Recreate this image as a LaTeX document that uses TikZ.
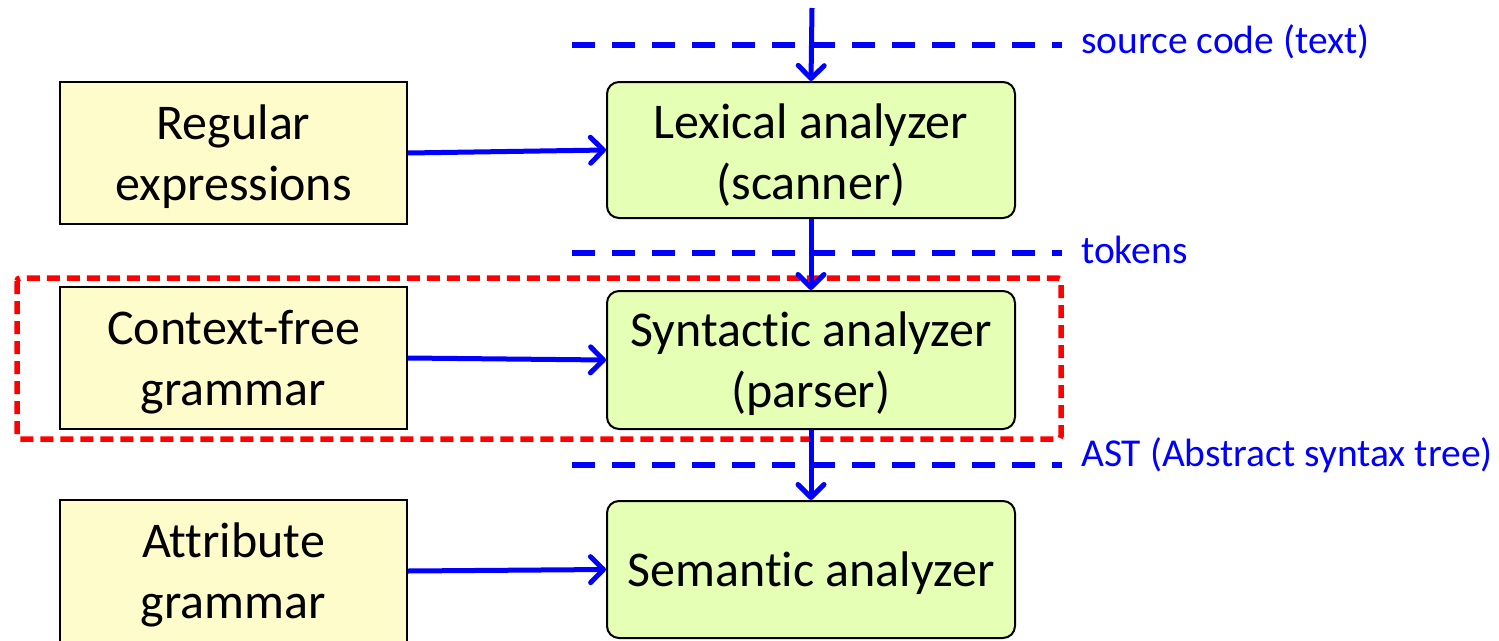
\documentclass[tikz,border=0pt]{standalone}
\usepackage{fontspec}
\setmainfont[Ligatures={NoCommon}]{Carlito}
\usetikzlibrary{arrows.meta}
\definecolor{leftfill}{RGB}{255,252,204}
\definecolor{rightfill}{RGB}{229,255,180}
\definecolor{arrblue}{RGB}{0,0,255}
\definecolor{boxred}{RGB}{255,0,0}
\begin{document}
\begin{tikzpicture}[x=1pt,y=-1pt,
  leftbox/.style={draw=black,line width=2pt,fill=leftfill,minimum width=347pt,minimum height=142pt,inner sep=0pt},
  rightbox/.style={draw=black,line width=2pt,fill=rightfill,rounded corners=12pt,minimum width=408pt,inner sep=0pt},
  boxtext/.style={align=center,inner sep=0pt,font=\fontsize{50}{61}\selectfont},
  flow/.style={draw=arrblue,line width=5pt,-{Straight Barb[length=13pt,width=26pt,line width=5pt,line cap=round,line join=round]}},
  sep/.style={draw=arrblue,line width=6pt,dash pattern=on 23pt off 17pt},
  lbl/.style={anchor=west,text=arrblue,inner sep=0pt,font=\fontsize{39.5}{44}\selectfont}
]
\useasboundingbox (0,0) rectangle (1499,640);
% left boxes
\node[leftbox] (re) at (233.5,153) {};
\node[leftbox] (cfg) at (233.5,358) {};
\node[leftbox] (ag) at (233.5,571) {};
\node[boxtext] (reT) at ([yshift=-4pt]re.center) {Regular\\expressions};
\node[boxtext] (cfgT) at ([yshift=-4pt]cfg.center) {Context-free\\grammar};
\node[boxtext] (agT) at ([yshift=-4pt]ag.center) {Attribute\\grammar};
% right boxes
\node[rightbox,minimum height=136pt] (lex) at (811,150) {};
\node[rightbox,minimum height=138pt] (syn) at (811,360) {};
\node[rightbox,minimum height=137pt] (sem) at (811,569.5) {};
\node[boxtext] (lexT) at ([yshift=-5pt]lex.center) {Lexical analyzer\\(scanner)};
\node[boxtext] (synT) at ([yshift=-4pt]syn.center) {Syntactic analyzer\\(parser)};
\node[boxtext] (semT) at ([yshift=-4pt]sem.center) {Semantic analyzer};
% separators
\coordinate (s1a) at (572,45); \coordinate (s1b) at (1062,45);
\coordinate (s2a) at (572,253); \coordinate (s2b) at (1062,253);
\coordinate (s3a) at (572,465); \coordinate (s3b) at (1062,465);
\draw[sep] (s1a) -- (s1b);
\draw[sep] (s2a) -- (s2b);
\draw[sep] (s3a) -- (s3b);
\node[lbl] (l1) at (1081,42) {source code (text)};
\node[lbl] (l2) at (1081,250) {tokens};
\node[lbl] (l3) at (1081,455) {AST (Abstract syntax tree)};
% red dashed focus box
\draw[draw=boxred,line width=5.5pt,dash pattern=on 13pt off 7pt,rounded corners=3pt] (17,278) rectangle (1061,439);
% arrows
\coordinate (top) at (812,8);
\draw[flow] (top) -- (lex.north);
\draw[flow] (lex.south) -- (syn.north);
\draw[flow] (syn.south) -- (sem.north);
\draw[flow] (re.east) -- (lex.west);
\draw[flow] (cfg.east) -- (syn.west);
\draw[flow] (ag.east) -- (sem.west);
\end{tikzpicture}
\end{document}
